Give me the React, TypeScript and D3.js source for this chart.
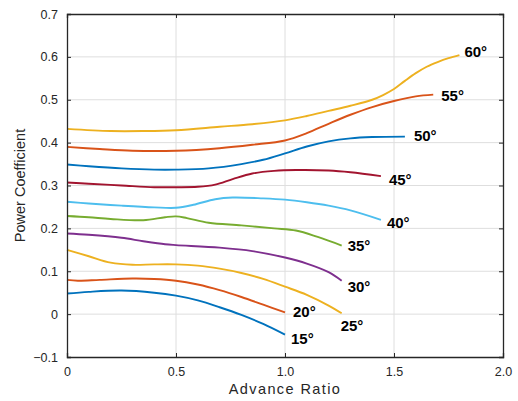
import React, { useEffect, useRef } from "react";
import * as d3 from "d3";

const width = 518;
const height = 401;
const margin = { top: 14, right: 15, bottom: 44, left: 67 };

// pitch angles, one curve each
const angles = ["15°", "20°", "25°", "30°", "35°", "40°", "45°", "50°", "55°", "60°"];

const colors = [
  "#0072BD", "#D95319", "#EDB120", "#7E2F8E", "#77AC30",
  "#4DBEEE", "#A2142F", "#0072BD", "#D95319", "#EDB120",
];

// [advance ratio, power coefficient]
const cp15 = [[0, 0.048], [0.1, 0.052], [0.25, 0.055], [0.4, 0.05], [0.5, 0.043], [0.6, 0.032], [0.7, 0.016], [0.8, -0.002], [0.9, -0.023], [1.0, -0.048]];
const cp20 = [[0, 0.08], [0.05, 0.078], [0.15, 0.08], [0.3, 0.083], [0.4, 0.082], [0.5, 0.078], [0.6, 0.069], [0.7, 0.056], [0.8, 0.04], [0.9, 0.022], [1.0, 0.004]];
const cp25 = [[0, 0.15], [0.1, 0.135], [0.2, 0.12], [0.3, 0.115], [0.4, 0.116], [0.5, 0.116], [0.6, 0.113], [0.7, 0.106], [0.8, 0.096], [0.9, 0.082], [1.0, 0.064], [1.1, 0.045], [1.2, 0.02], [1.26, 0.002]];
const cp30 = [[0, 0.188], [0.1, 0.185], [0.25, 0.178], [0.35, 0.17], [0.45, 0.163], [0.5, 0.161], [0.7, 0.155], [0.85, 0.147], [1.0, 0.132], [1.1, 0.118], [1.2, 0.098], [1.26, 0.078]];
const cp35 = [[0, 0.229], [0.1, 0.226], [0.2, 0.222], [0.35, 0.219], [0.45, 0.226], [0.5, 0.228], [0.55, 0.224], [0.65, 0.213], [0.8, 0.207], [0.95, 0.2], [1.05, 0.195], [1.15, 0.18], [1.26, 0.16]];
const cp40 = [[0, 0.262], [0.1, 0.258], [0.25, 0.253], [0.4, 0.249], [0.5, 0.248], [0.58, 0.255], [0.68, 0.268], [0.76, 0.272], [0.9, 0.27], [1.0, 0.267], [1.1, 0.261], [1.2, 0.253], [1.3, 0.242], [1.44, 0.22]];
const cp45 = [[0, 0.307], [0.1, 0.304], [0.25, 0.3], [0.4, 0.296], [0.5, 0.296], [0.6, 0.297], [0.68, 0.302], [0.76, 0.315], [0.85, 0.328], [0.95, 0.334], [1.05, 0.336], [1.2, 0.335], [1.3, 0.331], [1.44, 0.322]];
const cp50 = [[0, 0.349], [0.1, 0.345], [0.25, 0.34], [0.4, 0.337], [0.5, 0.337], [0.65, 0.34], [0.8, 0.35], [0.9, 0.36], [1.0, 0.375], [1.1, 0.391], [1.2, 0.403], [1.3, 0.41], [1.4, 0.413], [1.55, 0.414]];
const cp55 = [[0, 0.39], [0.15, 0.385], [0.3, 0.381], [0.5, 0.381], [0.7, 0.387], [0.85, 0.395], [1.0, 0.405], [1.1, 0.422], [1.2, 0.444], [1.3, 0.465], [1.4, 0.483], [1.5, 0.497], [1.6, 0.508], [1.68, 0.512]];
const cp60 = [[0, 0.432], [0.2, 0.427], [0.35, 0.427], [0.5, 0.429], [0.7, 0.437], [0.85, 0.443], [1.0, 0.452], [1.1, 0.462], [1.2, 0.474], [1.3, 0.486], [1.4, 0.5], [1.45, 0.511], [1.5, 0.525], [1.55, 0.544], [1.6, 0.562], [1.65, 0.577], [1.7, 0.588], [1.75, 0.597], [1.8, 0.604]];

const series = [cp15, cp20, cp25, cp30, cp35, cp40, cp45, cp50, cp55, cp60];

// label offsets from the curve end (dx, dy)
const labelOffsets = [
  [6, 4], [8, -1], [-1, 12], [6, 6], [6, 0], [6, 3], [8, 4], [9, -1], [8, 1], [5, -3],
];

const xTicks = [0, 0.5, 1.0, 1.5, 2.0];
const yTicks = [-0.1, 0, 0.1, 0.2, 0.3, 0.4, 0.5, 0.6, 0.7];

export default function App() {
  const ref = useRef<SVGSVGElement>(null);

  useEffect(() => {
    const svg = d3.select(ref.current);
    svg.selectAll("*").remove();

    const x = d3.scaleLinear().domain([0, 2]).range([margin.left, width - margin.right]);
    const y = d3.scaleLinear().domain([-0.1, 0.7]).range([height - margin.bottom, margin.top]);
    const axisColor = "#262626";
    const font = "Liberation Sans, Arial, sans-serif";

    // grid
    const grid = svg.append("g").attr("stroke", "#dedede").attr("stroke-width", 1);
    grid.selectAll("line.v")
      .data(xTicks.slice(1, -1))
      .join("line")
      .attr("x1", d => x(d)).attr("x2", d => x(d))
      .attr("y1", y(0.7)).attr("y2", y(-0.1));
    grid.selectAll("line.h")
      .data(yTicks.slice(1, -1))
      .join("line")
      .attr("x1", x(0)).attr("x2", x(2))
      .attr("y1", d => y(d)).attr("y2", d => y(d));

    // curves
    const line = d3.line<number[]>()
      .x(d => x(d[0]))
      .y(d => y(d[1]))
      .curve(d3.curveCatmullRom.alpha(0.5));

    svg.append("g")
      .attr("fill", "none")
      .attr("stroke-width", 1.9)
      .selectAll("path")
      .data(series)
      .join("path")
      .attr("stroke", (_, i) => colors[i])
      .attr("d", d => line(d));

    svg.append("g")
      .attr("font-family", font)
      .attr("font-size", 15)
      .attr("font-weight", "bold")
      .attr("fill", "#000")
      .selectAll("text")
      .data(series)
      .join("text")
      .attr("x", (d, i) => x(d[d.length - 1][0]) + labelOffsets[i][0])
      .attr("y", (d, i) => y(d[d.length - 1][1]) + labelOffsets[i][1])
      .attr("dy", "0.35em")
      .text((_, i) => angles[i]);

    // axes with ticks on all sides, pointing inward
    const fmtX = (d: number) => d3.format(".1f")(d).replace("0.0", "0");
    const fmtY = (d: number) => (d === 0 ? "0" : d3.format(".1f")(d).replace("-", "\u2212"));

    svg.append("g")
      .attr("transform", `translate(0,${y(-0.1)})`)
      .call(d3.axisBottom(x).tickValues(xTicks).tickSize(-4).tickPadding(10).tickFormat(d => fmtX(+d)))
      .call(g => g.selectAll("text").attr("font-size", 12.5).attr("font-family", font).attr("fill", axisColor))
      .call(g => g.selectAll("line, path").attr("stroke", axisColor));

    svg.append("g")
      .attr("transform", `translate(0,${y(0.7)})`)
      .call(d3.axisTop(x).tickValues(xTicks).tickSize(-4).tickFormat(() => ""))
      .call(g => g.selectAll("line, path").attr("stroke", axisColor));

    svg.append("g")
      .attr("transform", `translate(${x(0)},0)`)
      .call(d3.axisLeft(y).tickValues(yTicks).tickSize(-4).tickPadding(9).tickFormat(d => fmtY(+d)))
      .call(g => g.selectAll("text").attr("font-size", 12.5).attr("font-family", font).attr("fill", axisColor))
      .call(g => g.selectAll("line, path").attr("stroke", axisColor));

    svg.append("g")
      .attr("transform", `translate(${x(2)},0)`)
      .call(d3.axisRight(y).tickValues(yTicks).tickSize(-4).tickFormat(() => ""))
      .call(g => g.selectAll("line, path").attr("stroke", axisColor));

    svg.selectAll(".domain").attr("stroke-width", 1.3);

    // axis titles
    svg.append("text")
      .attr("x", (x(0) + x(2)) / 2)
      .attr("y", 394)
      .attr("text-anchor", "middle")
      .attr("font-family", font)
      .attr("font-size", 14.5)
      .attr("letter-spacing", 1.4)
      .attr("fill", axisColor)
      .text("Advance Ratio");

    svg.append("text")
      .attr("transform", `translate(25,${(y(-0.1) + y(0.7)) / 2}) rotate(-90)`)
      .attr("text-anchor", "middle")
      .attr("font-family", font)
      .attr("font-size", 14.5)
      .attr("fill", axisColor)
      .text("Power Coefficient");
  }, []);

  return (
    <svg
      ref={ref}
      width={width}
      height={height}
      style={{ position: "absolute", left: 0, top: 0, background: "#fff" }}
    />
  );
}
